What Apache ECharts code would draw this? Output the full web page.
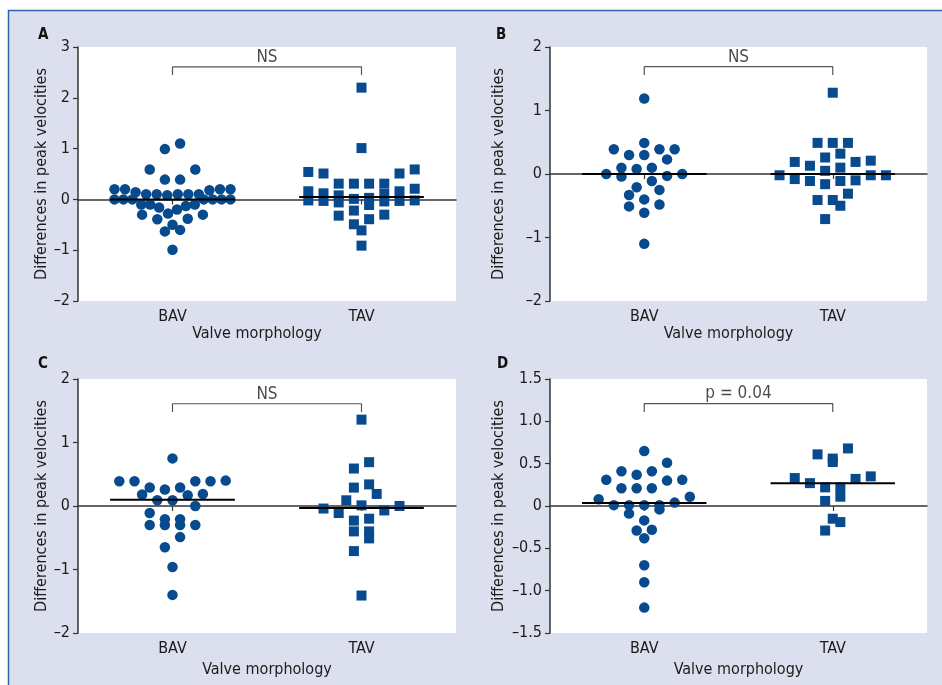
<!DOCTYPE html>
<html><head><meta charset="utf-8">
<script src="https://cdn.jsdelivr.net/npm/echarts@6/dist/echarts.min.js"></script>
<style>html,body{margin:0;padding:0;background:#fff}#c{width:942px;height:685px}</style>
</head><body><div id="c"></div>
<script>
// ---------- data ----------
const categories = ['BAV', 'TAV'];
const panelLetters = ['A', 'B', 'C', 'D'];
const bracketLabels = ['NS', 'NS', 'NS', 'p = 0.04'];

const aBAV = [1.10,0.99,0.59,0.59,0.39,0.39,0.20,0.20,0.18,0.10,0.10,0.10,0.08,0.10,0.10,0.14,0.20,0.20,0,0,0,0,0,0,0,-0.10,-0.10,-0.16,-0.28,-0.30,-0.30,-0.20,-0.13,-0.10,-0.39,-0.38,-0.60,-0.63,-0.50,-0.99];
const aTAV = [2.20,1.01,0.59,0.54,0.51,0.51,0.31,0.31,0.31,0.31,0.21,0.16,0.16,0.12,0.11,0.08,0.03,0.01,-0.02,-0.02,-0.03,-0.03,-0.04,-0.06,-0.11,-0.22,-0.30,-0.32,-0.39,-0.49,-0.61,-0.91];
const bBAV = [1.19,0.49,0.39,0.39,0.39,0.30,0.30,0.23,0.10,0.08,0.10,0,-0.03,0,-0.04,-0.11,-0.21,-0.25,-0.33,-0.40,-0.51,-0.48,-0.61,-1.10];
const bTAV = [1.28,0.49,0.49,0.49,0.32,0.26,0.19,0.19,0.21,0.10,0.13,0.05,-0.02,-0.02,-0.02,-0.10,-0.16,-0.11,-0.11,-0.08,-0.31,-0.41,-0.41,-0.50,-0.71];
const cBAV = [0.75,0.39,0.39,0.40,0.39,0.39,0.29,0.26,0.29,0.18,0.17,0.19,0.09,0.09,0,-0.11,-0.21,-0.21,-0.30,-0.30,-0.30,-0.30,-0.49,-0.65,-0.96,-1.40];
const cTAV = [1.36,0.69,0.59,0.34,0.29,0.19,0.09,0,-0.07,-0.11,-0.04,0.01,-0.20,-0.23,-0.40,-0.40,-0.51,-0.71,-1.41];
const dBAV = [0.65,0.51,0.37,0.31,0.41,0.41,0.30,0.31,0.21,0.21,0.21,0.08,0.11,0.01,0.01,0.01,0.01,0.04,-0.04,-0.09,-0.17,-0.29,-0.28,-0.38,-0.70,-0.90,-1.20];
const dTAV = [0.68,0.56,0.52,0.61,0.33,0.27,0.32,0.35,0.22,0.22,0.11,0.06,-0.15,-0.19,-0.29];

// central (median) lines per panel: [BAV, TAV]
const centerA = [0, 0.045];
const centerB = [0, 0];
const centerC = [0.10, -0.03];
const centerD = [0.035, 0.27];

// y-axis ranges and tick labels
const yMin = [-2, -2, -2, -1.5];
const yMax = [3, 2, 2, 1.5];
const yStep = [1, 1, 1, 0.5];
const ticksA = ['\u20132', '\u20131', '0', '1', '2', '3'];
const ticksB = ['\u20132', '\u20131', '0', '1', '2'];
const ticksC = ['\u20132', '\u20131', '0', '1', '2'];
const ticksD = ['\u20131.5', '\u20131.0', '\u20130.5', '0', '0.5', '1.0', '1.5'];

// significance brackets (value units)
const bracketTop = [2.61, 1.69, 1.61, 1.21];
const bracketBottom = [2.45, 1.56, 1.48, 1.11];

// ---------- build ----------
const FONT = "'Liberation Sans Narrow','Arial Narrow','DejaVu Sans Condensed',sans-serif";
const DOT = '#084a8e';
const AX = '#333';
const TXT = '#1b1b1b';

const groups = [[aBAV, aTAV], [bBAV, bTAV], [cBAV, cTAV], [dBAV, dTAV]];
const centers = [centerA, centerB, centerC, centerD];
const tickSets = [ticksA, ticksB, ticksC, ticksD];

const grids = [
  {left: 78, top: 47, width: 378, height: 254},
  {left: 550, top: 47, width: 377, height: 254},
  {left: 78, top: 379, width: 378, height: 254},
  {left: 550, top: 379, width: 377, height: 254}
];
const yNameGap = [28, 43, 28, 43];
const xNameGap = [25, 25, 29, 29];
const letterPos = [[38, 28], [496, 28], [38, 357], [497, 357]];

const chart = echarts.init(document.getElementById('c'), null, {renderer: 'canvas'});

function buildSeries(offsets) {
  const series = [];
  groups.forEach((grp, g) => {
    grp.forEach((vals, k) => {
      const off = offsets ? offsets[g][k] : vals.map(() => 0);
      series.push({
        id: 's' + g + '_' + k,
        type: 'scatter',
        xAxisIndex: g, yAxisIndex: g,
        symbol: k === 0 ? 'circle' : 'rect',
        symbolSize: k === 0 ? 10.5 : 10,
        itemStyle: {color: DOT, opacity: 1},
        silent: true, animation: false, z: 3,
        data: vals.map((v, i) => [k + 1 + off[i], v])
      });
      series.push({
        id: 'm' + g + '_' + k,
        type: 'line',
        xAxisIndex: g, yAxisIndex: g,
        symbol: 'none', silent: true, animation: false, z: 6,
        lineStyle: {color: '#000', width: 2},
        data: [[k + 1 - 0.33, centers[g][k]], [k + 1 + 0.33, centers[g][k]]]
      });
    });
    series.push({
      id: 'b' + g,
      type: 'line',
      xAxisIndex: g, yAxisIndex: g,
      symbol: 'none', silent: true, animation: false, z: 4,
      lineStyle: {color: '#555', width: 1.2},
      data: [[1, bracketBottom[g]], [1, bracketTop[g]], [2, bracketTop[g]], [2, bracketBottom[g]]]
    });
    series.push({
      id: 't' + g,
      type: 'scatter',
      xAxisIndex: g, yAxisIndex: g,
      symbolSize: 0, silent: true, animation: false, z: 4,
      label: {show: true, position: 'top', distance: 1, formatter: bracketLabels[g],
        fontFamily: FONT, fontSize: 17, color: TXT},
      data: [[1.5, bracketTop[g]]]
    });
  });
  return series;
}

const option = {
  backgroundColor: '#fff',
  animation: false,
  graphic: [{
    type: 'rect', z: -100, silent: true,
    shape: {x: 8.5, y: 10.5, width: 1000, height: 1000},
    style: {fill: '#dcdfed', stroke: '#2f63ad', lineWidth: 1.5}
  }],
  title: panelLetters.map((t, g) => ({
    text: t, left: letterPos[g][0], top: letterPos[g][1], padding: 0,
    textStyle: {fontFamily: FONT, fontSize: 15, fontWeight: 'bold', color: '#111'}
  })),
  grid: grids.map(gr => Object.assign({show: true, backgroundColor: '#fff', borderWidth: 0, containLabel: false}, gr)),
  xAxis: grids.map((gr, g) => ({
    type: 'value', gridIndex: g, min: 0.5, max: 2.5,
    name: 'Valve morphology', nameLocation: 'middle', nameGap: xNameGap[g],
    nameTextStyle: {fontFamily: FONT, fontSize: 16, color: TXT, padding: g < 2 ? [0, 20, 0, 0] : [0, 0, 0, 0]},
    splitLine: {show: false},
    axisLine: {show: true, lineStyle: {color: AX, width: 1.5}},
    axisTick: {show: true, length: 5, lineStyle: {color: AX, width: 1.2}, customValues: [1, 2]},
    axisLabel: {customValues: [1, 2], margin: 8, fontFamily: FONT, fontSize: 16, color: TXT,
      formatter: v => categories[Math.round(v) - 1]}
  })),
  yAxis: grids.map((gr, g) => ({
    type: 'value', gridIndex: g, min: yMin[g], max: yMax[g], interval: yStep[g],
    name: 'Differences in peak velocities', nameLocation: 'middle', nameGap: yNameGap[g], nameRotate: 90,
    nameTextStyle: {fontFamily: FONT, fontSize: 16, color: TXT},
    splitLine: {show: false},
    axisLine: {show: true, onZero: false, lineStyle: {color: AX, width: 1.5}},
    axisTick: {show: true, length: 5, lineStyle: {color: AX, width: 1.2}},
    axisLabel: {margin: 8, fontFamily: FONT, fontSize: 16, color: TXT,
      formatter: v => tickSets[g][Math.round((v - yMin[g]) / yStep[g])]}
  })),
  series: buildSeries(null)
};
chart.setOption(option);

// Prism-style scatter-dot layout: points binned into rows of one cell height,
// each row spread symmetrically (lowest values in the middle), computed in pixels
// from the chart's own scales.
const CELL = 15.2, MAXSPAN = 116;
function rowLayout(values, pyPerUnit) {
  const w = CELL / pyPerUnit;
  const bins = {};
  values.forEach((v, i) => {
    const b = Math.ceil(v / w - 1e-9);
    (bins[b] = bins[b] || []).push(i);
  });
  const off = values.map(() => 0);
  Object.keys(bins).forEach(key => {
    const idx = bins[key];
    const n = idx.length;
    const s = n > 1 ? Math.min(CELL, MAXSPAN / (n - 1)) : 0;
    const pos = [];
    for (let j = 0; j < n; j++) pos.push((j - (n - 1) / 2) * s);
    pos.sort((a, b) => (Math.abs(a) - Math.abs(b)) || (a - b));
    const sorted = idx.slice().sort((a, b) => values[a] - values[b]);
    sorted.forEach((i, j) => { off[i] = pos[j]; });
  });
  return off;
}

const offsets = groups.map((grp, g) => {
  const p0 = chart.convertToPixel({gridIndex: g}, [1, 0]);
  const p1 = chart.convertToPixel({gridIndex: g}, [2, 1]);
  const pxPerX = p1[0] - p0[0];
  const pyPerUnit = p0[1] - p1[1];
  return grp.map(vals => rowLayout(vals, pyPerUnit).map(o => o / pxPerX));
});
chart.setOption({series: buildSeries(offsets)});
</script></body></html>
